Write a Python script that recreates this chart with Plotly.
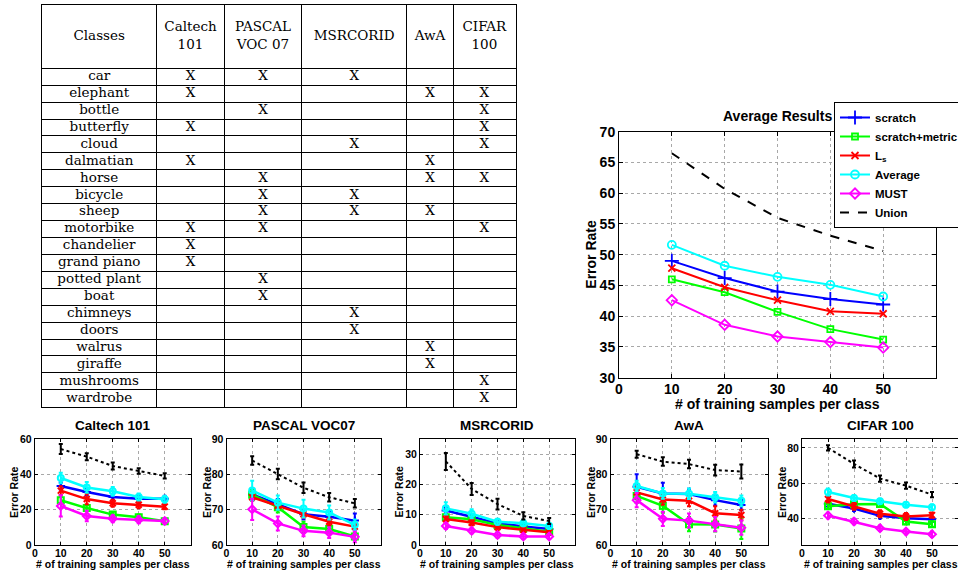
import plotly.graph_objects as go

# ---------------- data ----------------
classes = ["car", "elephant", "bottle", "butterfly", "cloud", "dalmatian", "horse",
           "bicycle", "sheep", "motorbike", "chandelier", "grand piano", "potted plant",
           "boat", "chimneys", "doors", "walrus", "giraffe", "mushrooms", "wardrobe"]
dataset_headers = ["Caltech<br>101", "PASCAL<br>VOC 07", "MSRCORID", "AwA", "CIFAR<br>100"]
caltech_classes = ["car", "elephant", "butterfly", "dalmatian", "motorbike", "chandelier", "grand piano"]
pascal_classes = ["car", "bottle", "horse", "bicycle", "sheep", "motorbike", "potted plant", "boat"]
msrc_classes = ["car", "cloud", "bicycle", "sheep", "chimneys", "doors"]
awa_classes = ["elephant", "dalmatian", "horse", "sheep", "walrus", "giraffe"]
cifar_classes = ["elephant", "bottle", "butterfly", "cloud", "horse", "motorbike", "mushrooms", "wardrobe"]
membership = [caltech_classes, pascal_classes, msrc_classes, awa_classes, cifar_classes]

samples = [10, 20, 30, 40, 50]
methods = ["scratch", "scratch+metric", "L<sub>s</sub>", "Average", "MUST", "Union"]

avg_scratch = [49.0, 46.2, 44.0, 42.8, 41.9]
avg_metric = [46.0, 43.9, 40.7, 37.9, 36.2]
avg_ls = [47.8, 44.7, 42.6, 40.8, 40.4]
avg_average = [51.6, 48.2, 46.4, 45.1, 43.2]
avg_must = [42.6, 38.6, 36.7, 35.8, 34.9]
avg_union = [66.5, 60.7, 56.0, 53.1, 50.6]

caltech_mean = {"scratch": [33.4, 30.0, 27.2, 26.2, 26.2], "scratch+metric": [25.3, 20.9, 17.2, 15.7, 13.4],
                "Ls": [30.8, 26.0, 23.6, 22.8, 21.7], "Average": [37.9, 32.6, 30.4, 27.2, 25.9],
                "MUST": [22.1, 16.4, 14.9, 14.3, 13.6], "Union": [54.3, 50.0, 44.7, 41.9, 39.1]}
caltech_err = {"scratch": [2.0, 2.0, 1.5, 1.5, 1.5], "scratch+metric": [2.0, 1.5, 1.5, 1.5, 1.0],
               "Ls": [2.5, 3.0, 2.0, 2.0, 1.5], "Average": [3.0, 3.0, 2.5, 2.0, 2.0],
               "MUST": [6.0, 3.0, 2.0, 2.0, 1.5], "Union": [2.8, 2.0, 2.0, 1.5, 1.5]}

pascal_mean = {"scratch": [74.3, 71.5, 68.7, 68.0, 66.9], "scratch+metric": [74.2, 70.7, 65.1, 64.5, 62.4],
               "Ls": [73.5, 71.1, 68.7, 66.6, 65.2], "Average": [75.4, 72.0, 70.3, 69.2, 65.7],
               "MUST": [70.1, 66.1, 64.0, 63.5, 62.3], "Union": [83.9, 80.1, 76.2, 73.5, 71.8]}
pascal_err = {"scratch": [1.5, 1.5, 1.5, 1.5, 2.0], "scratch+metric": [1.5, 1.5, 1.5, 1.0, 1.0],
              "Ls": [1.0, 1.0, 1.0, 1.0, 1.0], "Average": [2.8, 2.0, 2.5, 2.0, 1.5],
              "MUST": [3.0, 2.0, 1.5, 1.5, 1.5], "Union": [1.2, 1.5, 1.5, 1.2, 1.2]}

msrc_mean = {"scratch": [11.4, 9.2, 7.2, 6.1, 5.3], "scratch+metric": [9.2, 8.5, 6.6, 5.5, 4.4],
             "Ls": [8.6, 7.4, 5.9, 5.0, 4.2], "Average": [12.1, 10.3, 7.7, 7.2, 6.3],
             "MUST": [6.3, 4.7, 3.3, 2.8, 2.8], "Union": [27.6, 18.5, 13.5, 9.6, 7.9]}
msrc_err = {"scratch": [1.0, 1.0, 1.0, 1.0, 1.0], "scratch+metric": [1.0, 1.0, 0.8, 0.8, 0.8],
            "Ls": [1.2, 1.0, 1.0, 0.8, 0.8], "Average": [2.0, 1.5, 1.0, 1.0, 1.0],
            "MUST": [1.0, 0.8, 0.8, 0.8, 0.8], "Union": [2.8, 2.0, 1.8, 1.2, 1.0]}

awa_mean = {"scratch": [76.5, 74.6, 74.4, 72.7, 71.3], "scratch+metric": [73.9, 71.1, 65.9, 65.8, 64.7],
            "Ls": [74.9, 72.9, 72.5, 69.0, 68.5], "Average": [76.7, 74.6, 74.5, 73.5, 72.5],
            "MUST": [72.7, 67.4, 66.9, 65.9, 64.9], "Union": [85.7, 83.6, 82.9, 81.2, 80.8]}
awa_err = {"scratch": [3.5, 3.0, 1.5, 1.5, 1.5], "scratch+metric": [2.0, 2.0, 2.0, 2.0, 3.0],
           "Ls": [1.5, 1.5, 1.5, 2.0, 1.5], "Average": [1.5, 1.5, 1.5, 1.5, 1.5],
           "MUST": [2.0, 2.0, 2.0, 2.0, 2.0], "Union": [1.0, 1.2, 1.2, 1.5, 2.0]}

cifar_mean = {"scratch": [48.3, 45.7, 41.5, 40.2, 39.6], "scratch+metric": [47.0, 48.0, 48.2, 38.3, 36.8],
              "Ls": [51.0, 47.0, 42.7, 41.1, 41.9], "Average": [55.0, 51.6, 49.7, 47.8, 46.4],
              "MUST": [41.7, 38.3, 34.5, 32.6, 31.1], "Union": [80.0, 70.9, 62.6, 58.6, 53.5]}
cifar_err = {"scratch": [1.5, 1.5, 1.5, 1.5, 1.5], "scratch+metric": [1.5, 1.5, 1.5, 1.5, 1.5],
             "Ls": [2.0, 2.0, 2.0, 2.0, 1.5], "Average": [2.0, 1.5, 1.5, 1.5, 1.5],
             "MUST": [1.5, 1.5, 1.5, 1.5, 1.5], "Union": [1.5, 2.0, 1.8, 1.8, 1.5]}

small_titles = ["Caltech 101", "PASCAL VOC07", "MSRCORID", "AwA", "CIFAR 100"]
small_means = [caltech_mean, pascal_mean, msrc_mean, awa_mean, cifar_mean]
small_errs = [caltech_err, pascal_err, msrc_err, awa_err, cifar_err]
small_yranges = [[0, 60], [60, 90], [0, 35], [60, 90], [25, 85]]
small_ytickvals = [[0, 20, 40, 60], [60, 70, 80, 90], [0, 10, 20, 30], [60, 70, 80, 90], [40, 60, 80]]
x_tickvals = [0, 10, 20, 30, 40, 50]

# ---------------- style ----------------
W, H = 958, 571
SANS = "Liberation Sans, Arial, Helvetica, sans-serif"
SERIF = "DejaVu Serif, serif"
keys = ["scratch", "scratch+metric", "Ls", "Average", "MUST", "Union"]
colors = {"scratch": "#0000ff", "scratch+metric": "#00ff00", "Ls": "#ff0000",
          "Average": "#00ffff", "MUST": "#ff00ff", "Union": "#000000"}
symbols = {"scratch": "cross-thin-open", "scratch+metric": "square-open", "Ls": "x-thin-open",
           "Average": "circle-open", "MUST": "diamond-open", "Union": "circle"}
msize_main = {"scratch": 10, "scratch+metric": 6, "Ls": 7, "Average": 8, "MUST": 8}


def px(x):
    return x / W


def py(y):
    return 1 - y / H


def axis_style(fs):
    return dict(showline=True, linecolor="black", linewidth=1, mirror="ticks",
                ticks="inside", ticklen=4, tickcolor="black", tickwidth=1,
                showgrid=True, gridcolor="#a8a8a8", griddash="dot", gridwidth=1,
                zeroline=False, fixedrange=True, automargin=False,
                tickfont=dict(family=SANS, size=fs, color="black", weight="bold"))


def label(text, x, y, size, angle=0):
    return dict(text=text, x=px(x), y=py(y), xref="paper", yref="paper", showarrow=False,
                xanchor="center", yanchor="middle", textangle=angle,
                font=dict(family=SANS, size=size, color="black", weight="bold"))


fig = go.Figure()
annotations = []

# ---------------- main chart ----------------
avg_series = {"scratch": avg_scratch, "scratch+metric": avg_metric, "Ls": avg_ls,
              "Average": avg_average, "MUST": avg_must, "Union": avg_union}
for k, name in zip(keys, methods):
    c = colors[k]
    if k == "Union":
        fig.add_trace(go.Scatter(x=samples, y=avg_series[k], name=name, mode="lines",
                                 line=dict(color=c, width=2, dash="dash"),
                                 xaxis="x", yaxis="y", legendgroup=k))
    else:
        fig.add_trace(go.Scatter(x=samples, y=avg_series[k], name=name, mode="lines+markers",
                                 line=dict(color=c, width=2),
                                 marker=dict(symbol=symbols[k], size=msize_main[k], color=c,
                                             line=dict(color=c, width=1.8)),
                                 xaxis="x", yaxis="y", legendgroup=k))

layout_axes = {}
xa = axis_style(14)
xa.update(domain=[px(619), px(936)], range=[0, 60], tickvals=x_tickvals, anchor="y",
          ticklabelstandoff=-2)
ya = axis_style(14)
ya.update(domain=[py(377.7), py(131.7)], range=[30, 70], dtick=5, tick0=30, anchor="x")
layout_axes["xaxis"] = xa
layout_axes["yaxis"] = ya
annotations.append(label("Average Results", 777.5, 116, 14))
annotations.append(label("# of training samples per class", 777.5, 404, 14))
annotations.append(label("Error Rate", 591, 254.7, 14, -90))

# ---------------- small charts ----------------
small_x = [(34.8, 190.7), (226.5, 380.5), (420.0, 575.0), (610.5, 767.5), (802.0, 959.0)]
small_ytitle_x = [14, 207, 398.5, 591, 782]
for i in range(5):
    n = i + 2
    xr, yr = "x%d" % n, "y%d" % n
    for k in keys:
        c = colors[k]
        if k == "Union":
            fig.add_trace(go.Scatter(x=samples, y=small_means[i][k], mode="lines",
                                     line=dict(color=c, width=2, dash="dot"),
                                     error_y=dict(type="data", array=small_errs[i][k], color=c,
                                                  thickness=2, width=2),
                                     xaxis=xr, yaxis=yr, showlegend=False))
        else:
            fig.add_trace(go.Scatter(x=samples, y=small_means[i][k], mode="lines+markers",
                                     line=dict(color=c, width=2.5),
                                     marker=dict(symbol=symbols[k], size=6, color=c,
                                                 line=dict(color=c, width=2)),
                                     error_y=dict(type="data", array=small_errs[i][k], color=c,
                                                  thickness=2, width=2),
                                     xaxis=xr, yaxis=yr, showlegend=False))
    sx = axis_style(10.5)
    sx.update(domain=[px(small_x[i][0]), min(1.0, px(small_x[i][1]))], range=[0, 60],
              tickvals=x_tickvals, anchor=yr, ticklen=3, ticklabelstandoff=-2)
    sy = axis_style(10.5)
    sy.update(domain=[py(545), py(439)], range=small_yranges[i], tickvals=small_ytickvals[i],
              anchor=xr, ticklen=3)
    layout_axes["xaxis%d" % n] = sx
    layout_axes["yaxis%d" % n] = sy
    cx = (small_x[i][0] + small_x[i][1]) / 2
    annotations.append(label(small_titles[i], cx, 425.5, 13.5))
    annotations.append(label("# of training samples per class", cx, 563.5, 10.5))
    annotations.append(label("Error Rate", small_ytitle_x[i], 492, 10.5, -90))

# ---------------- table ----------------
col_widths = [115, 67.6, 77.4, 105, 46.6, 62.2]
header_h = 63.3
row_h = 16.92
bounds = [0]
for w in col_widths:
    bounds.append(bounds[-1] + w)
centers = [(bounds[j] + bounds[j + 1]) / 2 for j in range(len(col_widths))]
row_bounds = [header_h + row_h * r for r in range(len(classes) + 1)]
row_centers = [header_h + row_h * (r + 0.5) for r in range(len(classes))]
tfont = dict(family=SERIF, size=13.5, color="black")

fig.add_trace(go.Scatter(x=centers, y=[header_h / 2] * 6, text=["Classes"] + dataset_headers,
                         mode="text", textposition="middle center", textfont=tfont,
                         xaxis="x7", yaxis="y7", showlegend=False, hoverinfo="skip", cliponaxis=False))
fig.add_trace(go.Scatter(x=[centers[0]] * len(classes), y=row_centers, text=classes,
                         mode="text", textposition="middle center", textfont=tfont,
                         xaxis="x7", yaxis="y7", showlegend=False, hoverinfo="skip", cliponaxis=False))
mx, my = [], []
for j, members in enumerate(membership):
    for r, cls in enumerate(classes):
        if cls in members:
            mx.append(centers[j + 1])
            my.append(row_centers[r])
fig.add_trace(go.Scatter(x=mx, y=my, text=["X"] * len(mx), mode="text", textposition="middle center",
                         textfont=tfont, xaxis="x7", yaxis="y7", showlegend=False,
                         hoverinfo="skip", cliponaxis=False))

layout_axes["xaxis7"] = dict(domain=[px(41.7), px(515.5)], range=[0, bounds[-1]], anchor="y7",
                             showline=True, mirror=True, linecolor="black", linewidth=1.2,
                             showgrid=True, gridcolor="black", gridwidth=1, tickvals=bounds[1:-1],
                             showticklabels=False, ticks="", zeroline=False, fixedrange=True,
                             automargin=False)
layout_axes["yaxis7"] = dict(domain=[py(406.7), py(5)], range=[row_bounds[-1], 0], anchor="x7",
                             showline=True, mirror=True, linecolor="black", linewidth=1.2,
                             showgrid=True, gridcolor="black", gridwidth=1, tickvals=row_bounds[:-1],
                             showticklabels=False, ticks="", zeroline=False, fixedrange=True,
                             automargin=False)

fig.update_layout(
    width=W, height=H, margin=dict(l=0, r=0, t=0, b=0, autoexpand=False),
    paper_bgcolor="white", plot_bgcolor="white",
    showlegend=True,
    legend=dict(x=px(834), xanchor="left", y=py(102), yanchor="top", bgcolor="white",
                bordercolor="black", borderwidth=1, tracegroupgap=0, itemwidth=30,
                font=dict(family=SANS, size=11.5, color="black", weight="bold")),
    annotations=annotations,
    **layout_axes,
)

fig.write_html("out.html", config={"displayModeBar": False},
               post_script="document.body.style.margin='0';document.body.style.overflow='hidden';")
